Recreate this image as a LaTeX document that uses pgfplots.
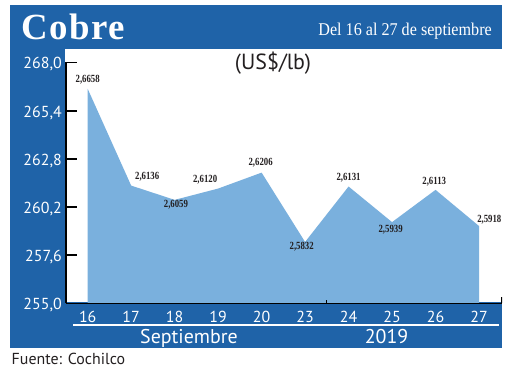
\documentclass[border=0pt]{standalone}
\usepackage{pgfplots}
\usepackage{pgfplotstable}
\pgfplotsset{compat=1.18}
\usepackage{fontspec}
\setmainfont{PT Sans}
\newfontfamily\seriffont[LetterSpace=4]{Liberation Serif}
\newfontfamily\headfont[FakeStretch=0.9]{Liberation Serif}
\newfontfamily\lblfont[FakeStretch=0.8]{Liberation Serif}
\definecolor{band}{HTML}{1F63A8}
\definecolor{areablue}{HTML}{7AB0DD}
\definecolor{txt}{HTML}{231F20}

\pgfplotstableread{
x y lab dx dy
0 266.58 2,6658 0 9.5
1 261.36 2,6136 16 8.9
2 260.59 2,6059 1.3 -5.1
3 261.20 2,6120 -13 9.3
4 262.06 2,6206 -1 10.3
5 258.32 2,5832 -3.4 -4.8
6 261.31 2,6131 0 9.2
7 259.39 2,5939 -1.4 -7.2
8 261.13 2,6113 -1.3 8.2
9 259.18 2,5918 10.3 6.7
}\datatable

\begin{document}
\begin{tikzpicture}
\useasboundingbox (0bp,0bp) rectangle (520bp,371bp);
\fill[band] (10bp,23bp) rectangle (502bp,366bp);
\fill[white] (65bp,69bp) rectangle (502bp,321.7bp);
\begin{axis}[
  at={(66bp,67.5bp)}, anchor=south west,
  scale only axis, width=436bp, height=241bp,
  xmin=-0.499, xmax=9.529, ymin=255, ymax=268,
  axis x line*=bottom, axis y line*=left,
  axis line style={-, black, line width=1.5bp},
  axis on top,
  xtick={0,...,9},
  xticklabels={16,17,18,19,20,23,24,25,26,27},
  x tick style={draw=none},
  ytick={255,257.6,260.2,262.8,265.4,268},
  y tick style={black, line width=1.8bp},
  tick align=inside, major tick length=11bp,
  yticklabel style={font=\fontsize{16}{16}\selectfont, text=white, anchor=east, inner sep=0pt, xshift=-4bp, yshift=-2bp,
    /pgf/number format/.cd, fixed, fixed zerofill, precision=1, use comma, assume math mode=true},
  xticklabel style={font=\fontsize{16}{16}\selectfont, text=white, anchor=center, inner sep=0pt, yshift=-13bp},
]
\addplot[fill=areablue, draw=none] table[x=x, y=y] {\datatable} \closedcycle;
\addplot[draw=none, mark=none, nodes near coords, point meta=explicit symbolic,
  visualization depends on={\thisrow{dx} \as \dx},
  visualization depends on={\thisrow{dy} \as \dy},
  nodes near coords style={anchor=center, xshift=\dx bp, yshift=\dy bp,
    font=\lblfont\bfseries\fontsize{11}{11}\selectfont, text=txt, inner sep=0pt}]
  table[x=x, y=y, meta=lab] {\datatable};
\draw[black, line width=1.5bp] (rel axis cs:1,0) -- ++(0bp,6bp);
\draw[black, line width=1bp] (axis cs:5.497,255) -- ++(0bp,3bp);
\end{axis}
\node[anchor=base west, text=white, font=\seriffont\bfseries\fontsize{37}{37}\selectfont, inner sep=0pt] at (21bp,331bp) {Cobre};
\node[anchor=base east, text=white, font=\headfont\fontsize{18}{18}\selectfont, inner sep=0pt] at (492bp,335bp) {Del 16 al 27 de septiembre};
\node[anchor=base, text=txt, font=\fontsize{22}{22}\selectfont, inner sep=0pt] at (273bp,301bp) {(US\$/lb)};
\draw[white, line width=1.5bp] (73bp,46bp) -- (499bp,46bp);
\node[anchor=base, text=white, font=\fontsize{20}{20}\selectfont, inner sep=0pt] at (189bp,28bp) {Septiembre};
\node[anchor=base, text=white, font=\fontsize{20}{20}\selectfont, inner sep=0pt] at (386.5bp,28bp) {2019};
\node[anchor=base west, text=txt, font=\fontsize{16}{16}\selectfont, inner sep=0pt] at (11.5bp,7bp) {Fuente: Cochilco};
\end{tikzpicture}
\end{document}
